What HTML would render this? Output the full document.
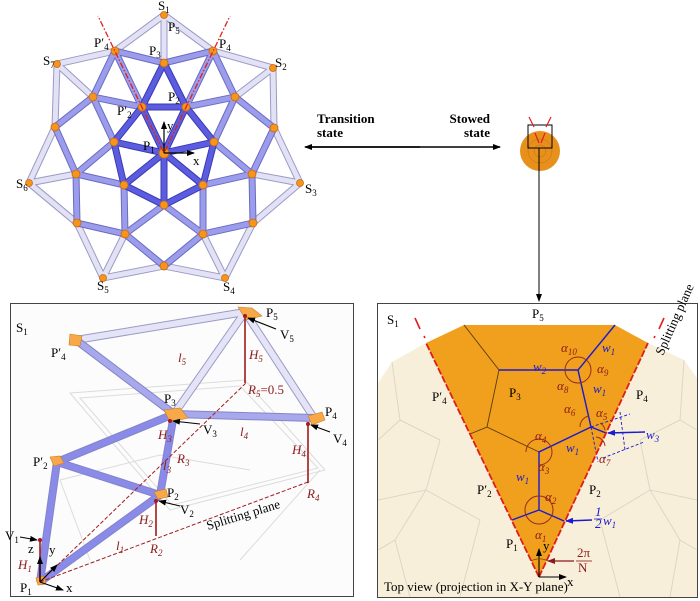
<!DOCTYPE html>
<html><head><meta charset="utf-8"><style>
html,body{margin:0;padding:0;background:#fff}
svg{display:block}
text{font-family:"Liberation Serif",serif;font-size:13px}
.s{font-size:9px}
.r{fill:#8b1a1a;font-style:italic}
.b{fill:#1a1ad0;font-style:italic}
</style></head><body>
<svg width="700" height="601" viewBox="0 0 700 601" xmlns="http://www.w3.org/2000/svg">
<defs>
<marker id="ah" markerWidth="8" markerHeight="8" refX="7" refY="4" orient="auto" markerUnits="userSpaceOnUse"><path d="M0,1 L8,4 L0,7 Z" fill="#000"/></marker>
<marker id="ahb" markerWidth="8" markerHeight="8" refX="7" refY="4" orient="auto" markerUnits="userSpaceOnUse"><path d="M0,1 L8,4 L0,7 Z" fill="#1a1ad0"/></marker>
<marker id="ahr" markerWidth="8" markerHeight="8" refX="7" refY="4" orient="auto" markerUnits="userSpaceOnUse"><path d="M0,1 L8,4 L0,7 Z" fill="#8b1a1a"/></marker>
</defs>

<!-- ===== TOP STRUCTURE ===== -->
<g stroke-linecap="butt">
<g stroke="#9a9ac8" stroke-width="7">
<path d="M164,15L115,51M164,15L213,51M164,15L164,63M57,64L115,51M273,68L213,51M57,64L55,127M273,68L274,128M57,64L93,97M273,68L235,97M29,183L55,127M300,183L274,128M29,183L76,174M300,183L252,174M29,183L77,223M300,183L253,223M103,278L77,223M225,278L253,223M103,278L125,234M225,278L203,234M103,278L164,266M225,278L164,266"/>
</g>
<g stroke="#e2e2f4" stroke-width="5">
<path d="M164,15L115,51M164,15L213,51M164,15L164,63M57,64L115,51M273,68L213,51M57,64L55,127M273,68L274,128M57,64L93,97M273,68L235,97M29,183L55,127M300,183L274,128M29,183L76,174M300,183L252,174M29,183L77,223M300,183L253,223M103,278L77,223M225,278L253,223M103,278L125,234M225,278L203,234M103,278L164,266M225,278L164,266"/>
</g>
<g stroke="#6a6ac0" stroke-width="7">
<path d="M115,51L164,63M213,51L164,63M115,51L93,97M213,51L235,97M93,97L55,127M235,97L274,128M55,127L76,174M274,128L252,174M76,174L77,223M252,174L253,223M77,223L125,234M253,223L203,234M125,234L164,266M203,234L164,266M93,97L142,107M235,97L186,107M93,97L114,142M235,97L214,142M76,174L124,185M252,174L203,185M76,174L114,142M252,174L214,142M124,185L125,234M203,185L203,234M125,234L164,205M203,234L164,205M115,51L142,107M213,51L186,107"/>
</g>
<g stroke="#9c9cec" stroke-width="5">
<path d="M115,51L164,63M213,51L164,63M115,51L93,97M213,51L235,97M93,97L55,127M235,97L274,128M55,127L76,174M274,128L252,174M76,174L77,223M252,174L253,223M77,223L125,234M253,223L203,234M125,234L164,266M203,234L164,266M93,97L142,107M235,97L186,107M93,97L114,142M235,97L214,142M76,174L124,185M252,174L203,185M76,174L114,142M252,174L214,142M124,185L125,234M203,185L203,234M125,234L164,205M203,234L164,205M115,51L142,107M213,51L186,107"/>
</g>
<g stroke="#3a3ab0" stroke-width="7">
<path d="M164,153L142,107M164,153L186,107M164,153L114,142M164,153L214,142M164,153L124,185M164,153L203,185M164,153L164,205M142,107L186,107M142,107L164,63M186,107L164,63M142,107L114,142M186,107L214,142M114,142L124,185M214,142L203,185M124,185L164,205M203,185L164,205"/>
</g>
<g stroke="#5c5ce0" stroke-width="5">
<path d="M164,153L142,107M164,153L186,107M164,153L114,142M164,153L214,142M164,153L124,185M164,153L203,185M164,153L164,205M142,107L186,107M142,107L164,63M186,107L164,63M142,107L114,142M186,107L214,142M114,142L124,185M214,142L203,185M124,185L164,205M203,185L164,205"/>
</g>
</g>
<g fill="#f7941d" stroke="#c46a10" stroke-width="0.8">
<circle cx="164" cy="15" r="3.5"/><circle cx="115" cy="51" r="4"/><circle cx="213" cy="51" r="4"/><circle cx="164" cy="63" r="4"/>
<circle cx="57" cy="64" r="3.5"/><circle cx="273" cy="68" r="3.5"/><circle cx="93" cy="97" r="4"/><circle cx="235" cy="97" r="4"/>
<circle cx="142" cy="107" r="4"/><circle cx="186" cy="107" r="4"/><circle cx="55" cy="127" r="4"/><circle cx="274" cy="128" r="4"/>
<circle cx="114" cy="142" r="4"/><circle cx="214" cy="142" r="4"/><circle cx="164" cy="153" r="5"/><circle cx="76" cy="174" r="4"/>
<circle cx="252" cy="174" r="4"/><circle cx="124" cy="185" r="4"/><circle cx="203" cy="185" r="4"/><circle cx="29" cy="183" r="3.5"/>
<circle cx="300" cy="183" r="3.5"/><circle cx="164" cy="205" r="4"/><circle cx="77" cy="223" r="4"/><circle cx="253" cy="223" r="4"/>
<circle cx="125" cy="234" r="4"/><circle cx="203" cy="234" r="4"/><circle cx="164" cy="266" r="4"/><circle cx="103" cy="278" r="3.5"/><circle cx="225" cy="278" r="3.5"/>
</g>
<g stroke="#e0201c" stroke-width="1.3" stroke-dasharray="6,2,1.5,2" fill="none">
<path d="M163,151L98,16M165,151L230,16"/>
</g>
<line x1="164" y1="153" x2="164" y2="122" stroke="#000" stroke-width="1.2" marker-end="url(#ah)"/>
<line x1="164" y1="153" x2="194" y2="153" stroke="#000" stroke-width="1.2" marker-end="url(#ah)"/>
<g font-size="12">
<text x="158" y="10">S<tspan class="s" dy="3">1</tspan></text>
<text x="168" y="31">P<tspan class="s" dy="3">5</tspan></text>
<text x="94" y="47">P′<tspan class="s" dy="3">4</tspan></text>
<text x="149" y="55">P<tspan class="s" dy="3">3</tspan></text>
<text x="219" y="48">P<tspan class="s" dy="3">4</tspan></text>
<text x="43" y="65">S<tspan class="s" dy="3">7</tspan></text>
<text x="275" y="67">S<tspan class="s" dy="3">2</tspan></text>
<text x="168" y="101">P<tspan class="s" dy="3">2</tspan></text>
<text x="117" y="115">P′<tspan class="s" dy="3">2</tspan></text>
<text x="143" y="150">P<tspan class="s" dy="3">1</tspan></text>
<text x="167" y="130">y</text>
<text x="193" y="165">x</text>
<text x="16" y="188">S<tspan class="s" dy="3">6</tspan></text>
<text x="305" y="193">S<tspan class="s" dy="3">3</tspan></text>
<text x="97" y="290">S<tspan class="s" dy="3">5</tspan></text>
<text x="223" y="291">S<tspan class="s" dy="3">4</tspan></text>
</g>

<text x="317" y="123" font-weight="bold" font-size="14">Transition</text>
<text x="317" y="137" font-weight="bold" font-size="14">state</text>
<text x="490" y="123" font-weight="bold" font-size="14" text-anchor="end">Stowed</text>
<text x="490" y="137" font-weight="bold" font-size="14" text-anchor="end">state</text>
<line x1="310" y1="147" x2="500" y2="147" stroke="#000" stroke-width="1.4" marker-end="url(#ah)"/>
<line x1="420" y1="147" x2="305" y2="147" stroke="#000" stroke-width="1.4" marker-end="url(#ah)"/>
<circle cx="540" cy="151" r="20" fill="#e8901c"/>
<g stroke="#c07010" stroke-width="0.5" fill="none"><circle cx="540" cy="151" r="12"/><circle cx="540" cy="151" r="6"/></g>
<rect x="528" y="125" width="24" height="23" fill="none" stroke="#000" stroke-width="1"/>
<g stroke="#e0201c" stroke-width="1.2"><path d="M529,117L534,127M551,117L546,127M535,133L539,143M545,133L541,143"/></g>
<line x1="539" y1="148" x2="539" y2="301" stroke="#000" stroke-width="1" marker-end="url(#ah)"/>

<!-- ===== BOTTOM LEFT PANEL ===== -->
<rect x="10.5" y="303.5" width="343" height="293" fill="#fcfcfc" stroke="#444" stroke-width="1"/>
<g stroke="#dcdcdc" stroke-width="1" fill="none">
<path d="M70,393L245,380L325,470L170,510L70,393Z M80,398L240,386L318,468L172,505Z M60,480L160,455L250,470 M90,560L60,480M320,470L240,560"/>
</g>
<g stroke="#9a9ac8" stroke-width="8"><path d="M76,340L245,312M245,312L174,414M245,312L314,418"/></g>
<g stroke="#e4e4f6" stroke-width="6"><path d="M76,340L245,312M245,312L174,414M245,312L314,418"/></g>
<g stroke="#8484c8" stroke-width="8"><path d="M76,340L174,414M174,414L314,418M174,414L57,462M174,414L160,495M57,462L160,495M57,462L40,582M160,495L40,582"/></g>
<g stroke="#a8a8ec" stroke-width="6"><path d="M76,340L174,414M174,414L314,418"/></g>
<g stroke="#8a8ae8" stroke-width="6"><path d="M174,414L57,462M174,414L160,495M57,462L160,495M57,462L40,582M160,495L40,582"/></g>
<g fill="#f7a94a" stroke="#d07a1a" stroke-width="0.6">
<path d="M238,307L252,308L262,316L246,320Z"/><path d="M70,334L82,336L80,346L69,345Z"/>
<path d="M164,410L180,408L188,418L170,422Z"/><path d="M308,416L322,412L325,420L312,425Z"/>
<path d="M50,457L60,456L64,463L54,466Z"/><path d="M154,492L166,489L168,497L158,499Z"/><path d="M36,578L44,576L46,584L38,585Z"/>
</g>
<g stroke="#a01c1c" stroke-width="1.6"><path d="M245,316L245,383M308,424L308,483M156,501L156,536M40,540L40,582"/></g>
<g stroke="#a01c1c" stroke-width="1" stroke-dasharray="4,2" fill="none"><path d="M40,582L246,383M40,582L308,482"/></g>
<g fill="#a01c1c"><circle cx="245" cy="316" r="2"/><circle cx="170" cy="421" r="2"/><circle cx="308" cy="424" r="2"/><circle cx="156" cy="501" r="2"/><circle cx="40" cy="540" r="2"/></g>
<g stroke="#000" stroke-width="1.1">
<line x1="276" y1="329" x2="248" y2="318" marker-end="url(#ah)"/>
<line x1="200" y1="424" x2="173" y2="421" marker-end="url(#ah)"/>
<line x1="330" y1="432" x2="311" y2="425" marker-end="url(#ah)"/>
<line x1="180" y1="506" x2="159" y2="501" marker-end="url(#ah)"/>
<line x1="20" y1="537" x2="37" y2="540" marker-end="url(#ah)"/>
<line x1="40" y1="582" x2="40" y2="557" marker-end="url(#ah)"/>
<line x1="40" y1="582" x2="57" y2="565" marker-end="url(#ah)"/>
<line x1="40" y1="582" x2="63" y2="590" marker-end="url(#ah)"/>
</g>
<text x="16" y="332" font-size="15">S<tspan class="s" font-size="10" dy="3">1</tspan></text>
<text x="266" y="317">P<tspan class="s" dy="3">5</tspan></text>
<text x="280" y="339">V<tspan class="s" dy="3">5</tspan></text>
<text x="51" y="357">P′<tspan class="s" dy="3">4</tspan></text>
<text x="178" y="362" class="r">l<tspan class="s" dy="3">5</tspan></text>
<text x="249" y="359" class="r">H<tspan class="s" dy="3">5</tspan></text>
<text x="248" y="394" class="r">R<tspan class="s" dy="3">5</tspan><tspan dy="-3" font-style="normal">=0.5</tspan></text>
<text x="164" y="403">P<tspan class="s" dy="3">3</tspan></text>
<text x="203" y="434">V<tspan class="s" dy="3">3</tspan></text>
<text x="240" y="436" class="r">l<tspan class="s" dy="3">4</tspan></text>
<text x="325" y="416">P<tspan class="s" dy="3">4</tspan></text>
<text x="333" y="443">V<tspan class="s" dy="3">4</tspan></text>
<text x="158" y="439" class="r">H<tspan class="s" dy="3">3</tspan></text>
<text x="177" y="463" class="r">R<tspan class="s" dy="3">3</tspan></text>
<text x="163" y="470" class="r">l<tspan class="s" dy="3">3</tspan></text>
<text x="292" y="454" class="r">H<tspan class="s" dy="3">4</tspan></text>
<text x="33" y="466">P′<tspan class="s" dy="3">2</tspan></text>
<text x="167" y="497">P<tspan class="s" dy="3">2</tspan></text>
<text x="180" y="514">V<tspan class="s" dy="3">2</tspan></text>
<text x="307" y="498" class="r">R<tspan class="s" dy="3">4</tspan></text>
<text x="208" y="530" font-size="11" transform="rotate(-17 208 530)">Splitting plane</text>
<text x="139" y="524" class="r">H<tspan class="s" dy="3">2</tspan></text>
<text x="116" y="550" class="r">l<tspan class="s" dy="3">1</tspan></text>
<text x="150" y="553" class="r">R<tspan class="s" dy="3">2</tspan></text>
<text x="5" y="540">V<tspan class="s" dy="3">1</tspan></text>
<text x="28" y="553" font-size="11">z</text>
<text x="49" y="554" font-size="11">y</text>
<text x="18" y="569" class="r">H<tspan class="s" dy="3">1</tspan></text>
<text x="20" y="592">P<tspan class="s" dy="3">1</tspan></text>
<text x="66" y="592" font-size="11">x</text>

<!-- ===== BOTTOM RIGHT PANEL ===== -->
<rect x="377.5" y="303.5" width="320" height="294" fill="#fff" stroke="#444" stroke-width="1"/>
<path d="M378,383L392,362L426,343L648,343L684,360L697,378L697,597L378,597Z" fill="#f8efda"/>
<g stroke="#ddd6c8" stroke-width="1" fill="none">
<path d="M392,362L400,420L378,440M400,420L440,440M440,440L426,490L378,500M426,490L480,520M426,490L395,540L378,550M395,540L410,597M684,360L680,420L697,430M680,420L640,440M640,440L650,490L697,500M650,490L600,520M650,490L680,540L697,550M680,540L670,597M600,520L620,597M480,520L460,597"/>
</g>
<path d="M464,325L615,325L648,343L539,577L426,343Z" fill="#f0a01c"/>
<g stroke="#5a3a10" stroke-width="0.9" fill="none"><path d="M464,325L499,370L487,427L470,434M487,427L539,452"/></g>
<g stroke="#1a1ad0" stroke-width="1.4" fill="none">
<path d="M512,520L539,510L564,521M539,510L539,452L591,427L578,370L615,325M578,370L499,370M591,427L606,433"/>
</g>
<g stroke="#1a1ad0" stroke-width="0.9" stroke-dasharray="3,2" fill="none"><path d="M591,427L630,414M591,427L598,462M603,458L644,442M620,412L625,450"/></g>
<g stroke="#e01c1c" stroke-width="1.8" stroke-dasharray="7,2" fill="none"><path d="M539,577L426,343M539,577L648,343"/></g>
<g stroke="#e01c1c" stroke-width="1.6" fill="none"><path d="M415,318L420,329M424,336L425,338M664,318L659,329M655,336L654,338"/></g>
<g stroke="#9a2a1a" stroke-width="1" fill="none">
<circle cx="578" cy="370" r="13"/><circle cx="539" cy="510" r="14"/>
<path d="M526,452A13,13 0 0 1 552,452M539,465A13,13 0 0 0 552,452M580,427A11,11 0 0 1 589,416M600,423A10,10 0 0 1 605,430M596,437A10,10 0 0 1 605,446"/>
</g>
<line x1="645" y1="432" x2="608" y2="433" stroke="#1a1ad0" stroke-width="1.4" marker-end="url(#ahb)"/>
<line x1="592" y1="520" x2="566" y2="521" stroke="#1a1ad0" stroke-width="1.4" marker-end="url(#ahb)"/>
<line x1="574" y1="561" x2="548" y2="561" stroke="#8b1a1a" stroke-width="1.2" marker-end="url(#ahr)"/>
<line x1="539" y1="577" x2="539" y2="549" stroke="#000" stroke-width="1.1" marker-end="url(#ah)"/>
<line x1="539" y1="577" x2="566" y2="577" stroke="#000" stroke-width="1.1" marker-end="url(#ah)"/>
<path d="M531,561A18,18 0 0 1 548,561" stroke="#6a4a10" stroke-width="0.8" fill="none"/>
<text x="387" y="324" font-size="15">S<tspan class="s" font-size="10" dy="3">1</tspan></text>
<text x="532" y="318">P<tspan class="s" dy="3">5</tspan></text>
<text x="533" y="371" class="b">w<tspan class="s" dy="3">2</tspan></text>
<text x="561" y="352" class="r">α<tspan class="s" dy="3">10</tspan></text>
<text x="602" y="352" class="b">w<tspan class="s" dy="3">1</tspan></text>
<text x="597" y="373" class="r">α<tspan class="s" dy="3">9</tspan></text>
<text x="557" y="390" class="r">α<tspan class="s" dy="3">8</tspan></text>
<text x="593" y="393" class="b">w<tspan class="s" dy="3">1</tspan></text>
<text x="509" y="397">P<tspan class="s" dy="3">3</tspan></text>
<text x="432" y="401">P′<tspan class="s" dy="3">4</tspan></text>
<text x="636" y="399">P<tspan class="s" dy="3">4</tspan></text>
<text x="564" y="413" class="r">α<tspan class="s" dy="3">6</tspan></text>
<text x="596" y="417" class="r">α<tspan class="s" dy="3">5</tspan></text>
<text x="535" y="440" class="r">α<tspan class="s" dy="3">4</tspan></text>
<text x="646" y="439" class="b">w<tspan class="s" dy="3">3</tspan></text>
<text x="566" y="452" class="b">w<tspan class="s" dy="3">1</tspan></text>
<text x="538" y="471" class="r">α<tspan class="s" dy="3">3</tspan></text>
<text x="599" y="463" class="r">α<tspan class="s" dy="3">7</tspan></text>
<text x="516" y="481" class="b">w<tspan class="s" dy="3">1</tspan></text>
<text x="477" y="494">P′<tspan class="s" dy="3">2</tspan></text>
<text x="545" y="501" class="r">α<tspan class="s" dy="3">2</tspan></text>
<text x="589" y="494">P<tspan class="s" dy="3">2</tspan></text>
<text x="595" y="516" class="b" font-size="9" font-style="normal">1</text>
<line x1="594" y1="519" x2="602" y2="519" stroke="#1a1ad0" stroke-width="0.8"/>
<text x="595" y="528" class="b" font-size="9" font-style="normal">2</text>
<text x="603" y="525" class="b">w<tspan class="s" dy="3">1</tspan></text>
<text x="535" y="539" class="r">α<tspan class="s" dy="3">1</tspan></text>
<text x="506" y="548">P<tspan class="s" dy="3">1</tspan></text>
<text x="543" y="550" font-size="11">y</text>
<text x="577" y="557" fill="#8b1a1a" font-size="11">2π</text>
<line x1="576" y1="561" x2="592" y2="561" stroke="#8b1a1a" stroke-width="0.8"/>
<text x="578" y="572" fill="#8b1a1a" font-size="11">N</text>
<text x="567" y="586" font-size="11">x</text>
<text x="384" y="591" font-size="11">Top view (projection in X-Y plane)</text>
<text x="663" y="356" font-size="10" transform="rotate(-66 663 356)">Splitting plane</text>
</svg>
</body></html>
